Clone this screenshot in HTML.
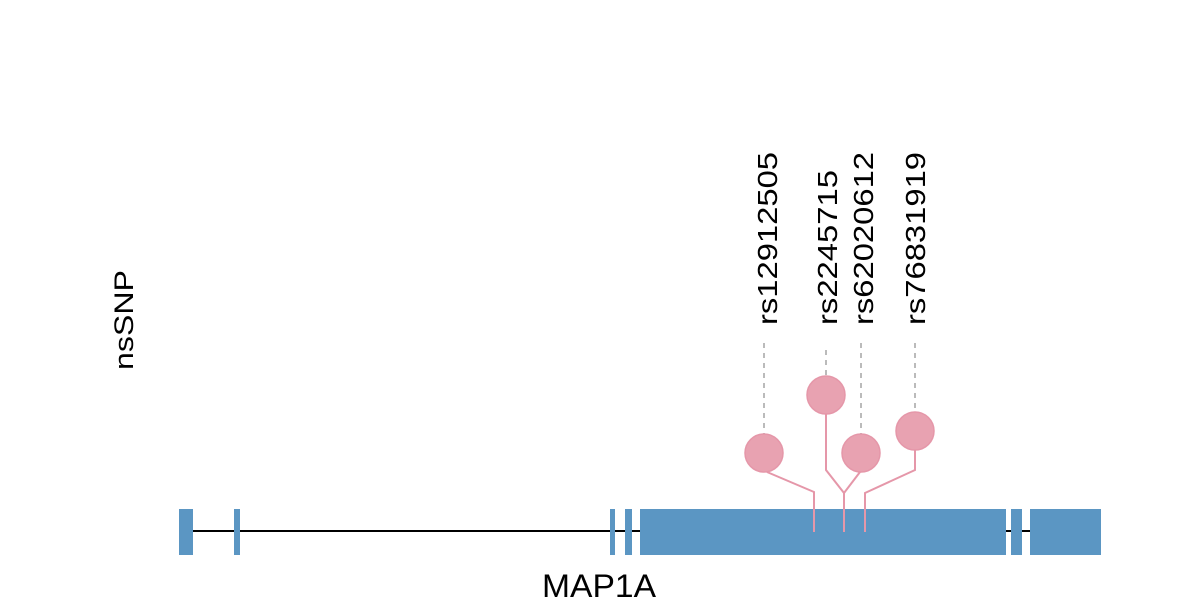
<!DOCTYPE html>
<html><head><meta charset="utf-8"><style>html,body{margin:0;padding:0;background:#fff}svg{display:block}</style></head>
<body>
<svg width="1200" height="600" xmlns="http://www.w3.org/2000/svg" font-family="Liberation Sans, Arial, sans-serif">
<rect width="1200" height="600" fill="#fff"/>
<line x1="186" y1="531" x2="1030" y2="531" stroke="#000" stroke-width="2"/>
<g fill="#5b96c3">
<rect x="179" y="509" width="14" height="46"/>
<rect x="234" y="509" width="6" height="46"/>
<rect x="610" y="509" width="5" height="46"/>
<rect x="625" y="509" width="7" height="46"/>
<rect x="640" y="509" width="366" height="46"/>
<rect x="1011" y="509" width="11" height="46"/>
<rect x="1030" y="509" width="71" height="46"/>
</g>
<g stroke="#bbb" stroke-width="2" stroke-dasharray="5,5">
<line x1="764" y1="343" x2="764" y2="434"/>
<line x1="826" y1="350" x2="826" y2="376"/>
<line x1="861" y1="343" x2="861" y2="434"/>
<line x1="915" y1="343" x2="915" y2="412"/>
</g>
<g stroke="#e597a9" stroke-width="2" fill="none">
<polyline points="767,472 814,492 814,532"/>
<polyline points="826,414 826,470 844,493 844,532"/>
<polyline points="860,472 844,493"/>
<polyline points="915,450 915,470 865,493 865,532"/>
</g>
<g fill="#e8a2b1" stroke="#e597a9" stroke-width="1.5">
<circle cx="764" cy="453" r="19"/>
<circle cx="826" cy="395" r="19"/>
<circle cx="861" cy="453" r="19"/>
<circle cx="915" cy="431" r="19"/>
</g>
<g font-size="28" fill="#000">
<text transform="translate(777,325) rotate(-90)" textLength="173" lengthAdjust="spacingAndGlyphs">rs12912505</text>
<text transform="translate(837,325) rotate(-90)" textLength="155" lengthAdjust="spacingAndGlyphs">rs2245715</text>
<text transform="translate(873,325) rotate(-90)" textLength="173" lengthAdjust="spacingAndGlyphs">rs62020612</text>
<text transform="translate(925,325) rotate(-90)" textLength="173" lengthAdjust="spacingAndGlyphs">rs76831919</text>
<text transform="translate(133,370) rotate(-90)" font-size="27" textLength="100" lengthAdjust="spacingAndGlyphs">nsSNP</text>
<text x="542" y="597" font-size="32" textLength="114" lengthAdjust="spacingAndGlyphs">MAP1A</text>
</g>
</svg>
</body></html>
